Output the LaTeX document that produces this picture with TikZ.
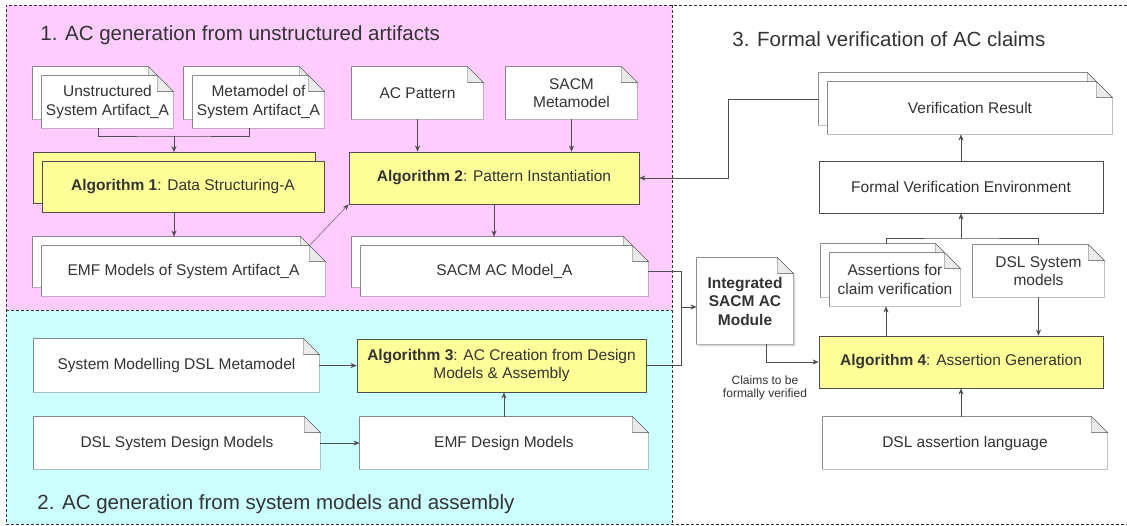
\documentclass[tikz,border=0pt]{standalone}
\usepackage{fontspec}
\setmainfont{Liberation Sans}
\usetikzlibrary{arrows.meta,shadows}

\definecolor{pinkbg}{HTML}{FFCCFF}
\definecolor{cyanbg}{HTML}{CCFFFF}
\definecolor{algofill}{HTML}{FFFF99}
\definecolor{foldgray}{HTML}{EBEBEB}
\definecolor{ink}{HTML}{333333}
\definecolor{linegray}{HTML}{4D4D4D}

\pgfdeclarelayer{regions}
\pgfdeclarelayer{docs}
\pgfsetlayers{regions,docs,main}

% outline of a document node, with its folded corner
\newcommand{\docfold}[2][]{%
  \draw[linegray, fill=white, #1] (#2.south west) -- (#2.north west) -- ([xshift=-16pt]#2.north east)
    -- ([yshift=-16pt]#2.north east) -- (#2.south east) -- cycle;
  \draw[linegray, fill=foldgray] ([xshift=-16pt]#2.north east) -- ([xshift=-16pt,yshift=-16pt]#2.north east)
    -- ([yshift=-16pt]#2.north east) -- cycle;}

\begin{document}
\begin{tikzpicture}[x=1pt, y=-1pt, line width=0.9pt, >={Stealth[length=6pt,width=5pt]},
    font=\fontsize{15.5}{18.5}\selectfont, text=ink,
    doc/.style 2 args={minimum width=#1pt, minimum height=#2pt, inner sep=0pt, align=center},
    algo/.style 2 args={doc={#1}{#2}, draw=linegray, fill=algofill},
    title/.style={anchor=base west, inner sep=0pt, font=\fontsize{20.5}{24}\selectfont},
    note/.style={align=center, font=\fontsize{12}{13.5}\selectfont},
    frame/.style={black!80, line width=0.8pt, dash pattern=on 3pt off 2pt}]
    \useasboundingbox (0,0) rectangle (1127,525);

    \node[title] (t1) at (40,40.5) {1. AC generation from unstructured artifacts};
    \node[title] (t2) at (37,509) {2. AC generation from system models and assembly};
    \node[title] (t3) at (732,46.5) {3. Formal verification of AC claims};

    \node[doc={131}{52}] (unstrB) at (98.5,93) {};
    \node[doc={131}{52}] (unstr) at (107.5,102) {Unstructured\\System Artifact\_A};
    \node[doc={131}{52}] (metaB) at (249.5,93) {};
    \node[doc={131}{52}] (meta) at (258.5,102) {Metamodel of\\System Artifact\_A};
    \node[doc={131}{52}] (acpat) at (417.5,93) {AC Pattern};
    \node[doc={131}{52}] (sacmmm) at (571.5,93) {SACM\\Metamodel};
    \node[algo={282}{51}] (algo1B) at (174,178) {};
    \node[algo={282}{51}] (algo1) at (183,187) {\textbf{Algorithm 1}: Data Structuring-A};
    \node[algo={290}{52}] (algo2) at (494,178) {\textbf{Algorithm 2}: Pattern Instantiation};
    \node[doc={283}{50}] (emfB) at (174.5,262) {};
    \node[doc={283}{50}] (emf) at (183.5,271) {EMF Models of System Artifact\_A};
    \node[doc={287}{50}] (sacmB) at (495.5,262) {};
    \node[doc={287}{50}] (sacm) at (504.5,271) {SACM AC Model\_A};

    \node[doc={285}{53}] (sysdsl) at (176.5,365.5) {System Modelling DSL Metamodel};
    \node[algo={289}{53}] (algo3) at (501.5,365.5) {\textbf{Algorithm 3}: AC Creation from Design\\Models \& Assembly};
    \node[doc={286}{52}] (dslsdm) at (177,443) {DSL System Design Models};
    \node[doc={288}{52}] (emfdm) at (504,443) {EMF Design Models};

    \node[doc={96}{86}, font=\bfseries\fontsize{15.5}{18.5}\selectfont] (integ) at (745,301) {Integrated\\SACM AC\\Module};
    \node[note] (claims) at (765,388) {Claims to be\\formally verified};

    \node[doc={284}{52}] (resultB) at (961,99) {};
    \node[doc={284}{52}] (result) at (970,108) {Verification Result};
    \node[doc={284}{52}, draw=linegray, fill=white] (fve) at (961,187) {Formal Verification Environment};
    \node[doc={130}{53}] (assertB) at (886,270.5) {};
    \node[doc={130}{53}] (assert) at (895,279.5) {Assertions for\\claim verification};
    \node[doc={131}{52}] (dslsm) at (1038.5,271) {DSL System\\models};
    \node[algo={284}{52}] (algo4) at (961,362) {\textbf{Algorithm 4}: Assertion Generation};
    \node[doc={284}{52}] (dslal) at (965,443) {DSL assertion language};

    \begin{pgfonlayer}{docs}
        \foreach \n in {unstrB,unstr,metaB,meta,acpat,sacmmm,emfB,emf,sacmB,sacm,
                        sysdsl,dslsdm,emfdm,resultB,result,assertB,assert,dslsm,dslal}
            {\docfold{\n}}
        \docfold[drop shadow={shadow xshift=2pt,shadow yshift=-2pt,opacity=0.3}]{integ}
    \end{pgfonlayer}

    \begin{pgfonlayer}{regions}
        \fill[pinkbg] (6,5) rectangle (672,310);
        \fill[cyanbg] (6,310) rectangle (672,524);
        \draw[frame] (1127,5) -- (6,5) -- (6,524) -- (1127,524);
        \draw[frame] (672,5) -- (672,524);
        \draw[frame] (6,310) -- (672,310);
    \end{pgfonlayer}

    \coordinate (j1) at (174,136);
    \coordinate (merge) at (681,307);
    \coordinate (j3) at (961,238);

    \draw[linegray] (unstrB.center |- unstr.south) |- (j1) -| (metaB.center |- meta.south);
    \draw[linegray,->] (j1) -- (algo1B.north);
    \draw[linegray,->] (acpat.south) -- (acpat.south |- algo2.north);
    \draw[linegray,->] (sacmmm.south) -- (sacmmm.south |- algo2.north);
    \draw[linegray,->] (algo1B.center |- algo1.south) -- (algo1B.center |- emfB.north);
    \draw[linegray,->] ([xshift=-16pt]emf.north east) -- (algo2.south west);
    \draw[linegray,->] (algo2.south) -- (algo2.south |- sacmB.north);

    \draw[linegray,->] (sysdsl.east) -- (algo3.west);
    \draw[linegray,->] (dslsdm.east) -- (emfdm.west);
    \draw[linegray,->] (emfdm.north) -- (emfdm.north |- algo3.south);

    \draw[linegray] (sacm.east) -| (merge);
    \draw[linegray] (algo3.east) -| (merge);
    \draw[linegray,->] (merge) -- (merge -| integ.west);
    \draw[linegray,->] ([xshift=21pt]integ.south) |- (algo4.west);

    \draw[linegray,->] (algo4.south |- dslal.north) -- (algo4.south);
    \draw[linegray,->] (assertB.center |- algo4.north) -- (assertB.center |- assert.south);
    \draw[linegray,->] (dslsm.south) -- (dslsm.south |- algo4.north);
    \draw[linegray] (assertB.north) |- (j3) -| (dslsm.north);
    \draw[linegray,->] (j3) -- (fve.south);
    \draw[linegray,->] (fve.north) -- (fve.north |- result.south);
    \draw[linegray,->] (resultB.west) -- ++(-90,0) |- (algo2.east);

\end{tikzpicture}
\end{document}
